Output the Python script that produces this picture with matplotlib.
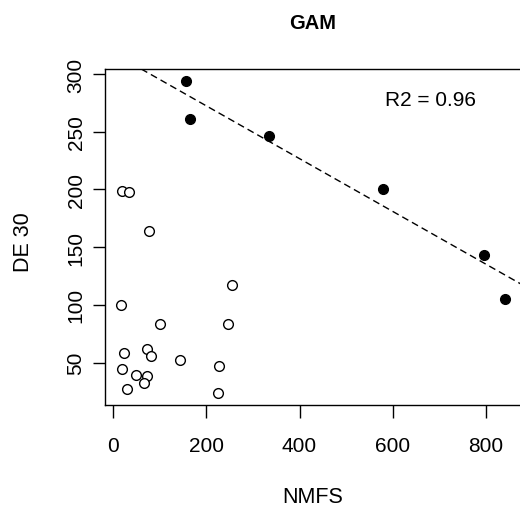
import matplotlib
matplotlib.use("Agg")
import matplotlib.pyplot as plt
import numpy as np

plt.rcParams['font.family'] = ['Liberation Sans', 'DejaVu Sans']

# Filled points (fitted group)
filled_x = [156, 165, 334, 579, 796, 842]
filled_y = [294, 261, 246, 200, 143, 105]
# Open points
open_x = [77, 255, 16, 101, 246, 22, 72, 81, 143, 19, 49, 72, 228, 67, 29, 225, 19, 34]
open_y = [164, 117, 100, 83, 83, 58, 62, 56, 52, 44, 39, 38, 47, 32, 27, 24, 199, 198]
# Regression line
intercept = 318.0
slope = -0.2284
r2_label = "R2 = 0.96"
xticks = [0, 200, 400, 600, 800]
yticks = [50, 100, 150, 200, 250, 300]

fig = plt.figure(figsize=(5.2, 5.1), dpi=100)
ax = fig.add_axes([105/520, 1-406/510, (523-105)/520, (406-70)/510])

ax.plot(filled_x, filled_y, 'o', color='black', markersize=7, zorder=3)
ax.plot(open_x, open_y, 'o', markerfacecolor='white', markeredgecolor='black',
        markersize=7, markeredgewidth=1.0, zorder=3)
ax.axline((0, intercept), slope=slope, color='black', linestyle=(0, (5, 3)), linewidth=1.0)

ax.set_xlim(-17.8, 880)
ax.set_ylim(13.2, 304.3)
ax.set_xticks(xticks)
ax.set_yticks(yticks)
ax.set_yticklabels([str(v) for v in yticks], rotation=90, va='center')
ax.tick_params(axis='both', direction='out', length=9, width=1, labelsize=15, color='black')
ax.tick_params(axis='x', pad=13)
ax.tick_params(axis='y', pad=5)
for s in ax.spines.values():
    s.set_linewidth(1)

ax.text(682, 277.7, r2_label, ha='center', va='center', fontsize=15)

fig.text(313/520, 1-23.3/510, "GAM", ha='center', va='center', fontsize=14.5, fontweight='bold')
fig.text(313/520, 1-498/510, "NMFS", ha='center', va='center', fontsize=15.5)
fig.text(23.3/520, 1-242.5/510, "DE 30", ha='center', va='center', fontsize=15.5, rotation=90)

fig.savefig("out.png", dpi=100)
